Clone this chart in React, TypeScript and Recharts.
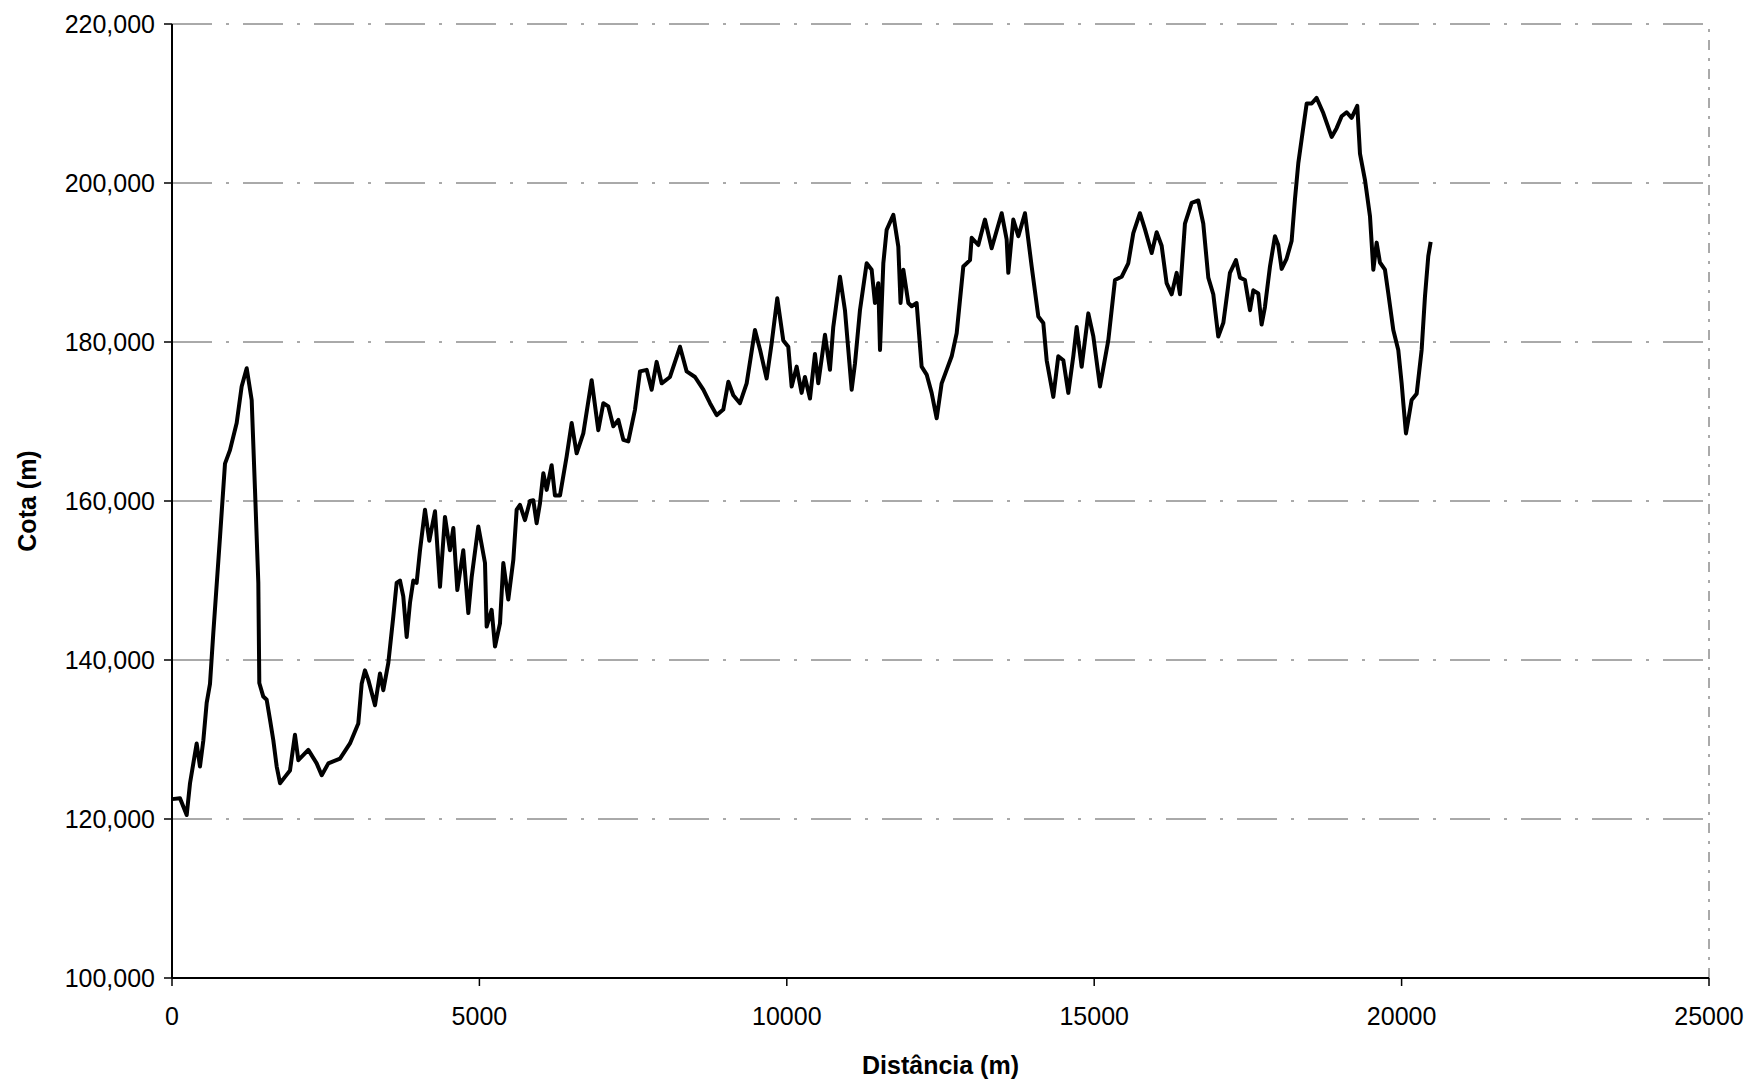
import React from "react";
import {
  LineChart,
  Line,
  XAxis,
  YAxis,
  CartesianGrid,
  ReferenceLine,
} from "recharts";

const distances: number[] = [
  0, 130, 239, 293, 401, 455, 510, 564, 618, 672, 781, 862, 943, 1052, 1133,
  1215, 1296, 1350, 1404, 1420, 1485, 1540, 1594, 1648, 1703, 1757, 1838, 1919,
  2000, 2055, 2217, 2353, 2435, 2543, 2733, 2895, 3030, 3085, 3139, 3193, 3302,
  3383, 3437, 3518, 3600, 3654, 3708, 3762, 3817, 3871, 3925, 3979, 4034, 4115,
  4185, 4278, 4359, 4440, 4521, 4576, 4641, 4738, 4820, 4874, 4982, 5091, 5118,
  5199, 5254, 5335, 5389, 5470, 5552, 5606, 5660, 5741, 5823, 5877, 5931, 5985,
  6040, 6094, 6175, 6229, 6311, 6419, 6501, 6582, 6690, 6826, 6934, 7016, 7097,
  7178, 7260, 7341, 7422, 7531, 7612, 7721, 7802, 7883, 7965, 8100, 8263, 8371,
  8507, 8642, 8751, 8859, 8967, 9049, 9130, 9238, 9347, 9482, 9563, 9672, 9753,
  9845, 9943, 10024, 10079, 10160, 10241, 10295, 10377, 10458, 10512, 10621,
  10702, 10756, 10865, 10946, 11055, 11109, 11190, 11299, 11380, 11434, 11488,
  11516, 11570, 11624, 11733, 11814, 11850, 11895, 11977, 12031, 12112, 12193,
  12275, 12356, 12438, 12519, 12600, 12682, 12763, 12871, 12980, 13007, 13115,
  13223, 13332, 13495, 13576, 13603, 13684, 13766, 13874, 13983, 14091, 14172,
  14227, 14335, 14416, 14498, 14579, 14660, 14715, 14796, 14904, 14986, 15094,
  15229, 15338, 15446, 15554, 15636, 15744, 15825, 15935, 16016, 16097, 16178,
  16260, 16341, 16395, 16476, 16585, 16693, 16774, 16856, 16937, 17018, 17100,
  17208, 17306, 17371, 17452, 17534, 17588, 17669, 17723, 17777, 17859, 17940,
  17994, 18049, 18130, 18211, 18266, 18320, 18374, 18456, 18537, 18618, 18726,
  18862, 18943, 19025, 19106, 19187, 19279, 19323, 19404, 19486, 19540, 19594,
  19648, 19729, 19784, 19865, 19946, 20001, 20028, 20071, 20109, 20163, 20245,
  20326, 20380, 20434, 20473,
];

const elevations: number[] = [
  122500, 122600, 120500, 124500, 129500, 126600, 129900, 134600, 137000,
  143400, 155500, 164700, 166400, 169800, 174400, 176700, 172700, 161400,
  149700, 137100, 135400, 135000, 132500, 129900, 126600, 124500, 125300,
  126100, 130600, 127400, 128700, 127000, 125500, 127000, 127600, 129500,
  132000, 137000, 138700, 137500, 134300, 138300, 136200, 139600, 145500,
  149700, 150000, 148000, 142900, 147200, 150000, 149700, 153800, 158900,
  155000, 158700, 149200, 158000, 153800, 156600, 148800, 153800, 145900,
  150400, 156800, 152200, 144200, 146300, 141700, 144600, 152200, 147600,
  152600, 158900, 159500, 157600, 160000, 160100, 157200, 159700, 163500,
  161400, 164500, 160700, 160700, 165600, 169800, 166000, 168500, 175200,
  168900, 172300, 171900, 169400, 170200, 167700, 167500, 171500, 176300,
  176500, 174000, 177500, 174800, 175600, 179400, 176300, 175600, 174000,
  172300, 170800, 171500, 175000, 173300, 172300, 174800, 181500, 179100,
  175400, 179800, 185500, 180200, 179400, 174400, 176900, 173600, 175600,
  172900, 178500, 174800, 180900, 176500, 181900, 188200, 184000, 174000,
  177300, 184000, 189900, 189100, 184900, 187400, 179000, 189900, 194100,
  196000, 192000, 184900, 189100, 184900, 184500, 184900, 176900, 175900,
  173600, 170400, 174800, 176500, 178200, 181100, 189500, 190300, 193100,
  192200, 195400, 191800, 196200, 192900, 188700, 195400, 193300, 196200,
  189500, 183200, 182400, 177700, 173100, 178200, 177700, 173600, 178200,
  181900, 176900, 183600, 180700, 174400, 180200, 187800, 188200, 189900,
  193700, 196200, 194200, 191200, 193800, 192100, 187400, 186000, 188700,
  186000, 194900, 197500, 197800, 194900, 188100, 186000, 180700, 182400,
  188700, 190300, 188100, 187800, 184000, 186500, 186100, 182200, 184400,
  189500, 193300, 192200, 189200, 190500, 192700, 198000, 202500, 205500,
  210000, 210000, 210700, 208800, 205800, 206900, 208400, 208900, 208200,
  209700, 203700, 200400, 195800, 189100, 192500, 190000, 189100, 186100,
  181500, 179000, 174800, 172300, 168500, 170200, 172700, 173500, 179000,
  185700, 190800, 192600,
];

const xTicks: number[] = [0, 5000, 10000, 15000, 20000, 25000];
const yTicks: number[] = [100000, 120000, 140000, 160000, 180000, 200000, 220000];

const data = distances.map((d, i) => ({ d, cota: elevations[i] }));

const FONT = "'Liberation Sans', Arial, Helvetica, sans-serif";

export default function App() {
  return (
    <div
      style={{
        position: "absolute",
        left: 0,
        top: 0,
        width: 1750,
        height: 1082,
        background: "#fff",
      }}
    >
      <LineChart
        width={1750}
        height={1082}
        data={data}
        margin={{ top: 24, right: 41, left: 0, bottom: 0 }}
      >
        <CartesianGrid
          horizontal={true}
          vertical={false}
          stroke="#555"
          strokeWidth={1}
          strokeDasharray="40 14 3 14"
        />
        <ReferenceLine
          x={25000}
          stroke="#555"
          strokeWidth={1}
          strokeDasharray="10 8 3 8"
          ifOverflow="extendDomain"
        />
        <XAxis
          dataKey="d"
          type="number"
          domain={[0, 25000]}
          ticks={xTicks}
          interval={0}
          height={104}
          axisLine={{ stroke: "#000", strokeWidth: 2 }}
          tickLine={{ stroke: "#000", strokeWidth: 1.5 }}
          tickSize={8}
          tickMargin={21}
          tick={{ fill: "#000", fontSize: 25, fontFamily: FONT }}
          label={{
            value: "Distância (m)",
            position: "insideBottom",
            offset: 8,
            style: {
              fill: "#000",
              fontSize: 25,
              fontWeight: "bold",
              fontFamily: FONT,
            },
          }}
        />
        <YAxis
          type="number"
          domain={[100000, 220000]}
          ticks={yTicks}
          interval={0}
          width={172}
          axisLine={{ stroke: "#000", strokeWidth: 2 }}
          tickLine={{ stroke: "#000", strokeWidth: 1.5 }}
          tickSize={8}
          tickMargin={9}
          tickFormatter={(v: number) => v.toLocaleString("en-US")}
          tick={{ fill: "#000", fontSize: 25, fontFamily: FONT }}
          label={{
            value: "Cota (m)",
            angle: -90,
            position: "insideLeft",
            offset: 27,
            style: {
              textAnchor: "middle",
              fill: "#000",
              fontSize: 25,
              fontWeight: "bold",
              fontFamily: FONT,
            },
          }}
        />
        <Line
          type="linear"
          dataKey="cota"
          stroke="#000"
          strokeWidth={4}
          strokeLinejoin="round"
          dot={false}
          activeDot={false}
          isAnimationActive={false}
        />
      </LineChart>
    </div>
  );
}
